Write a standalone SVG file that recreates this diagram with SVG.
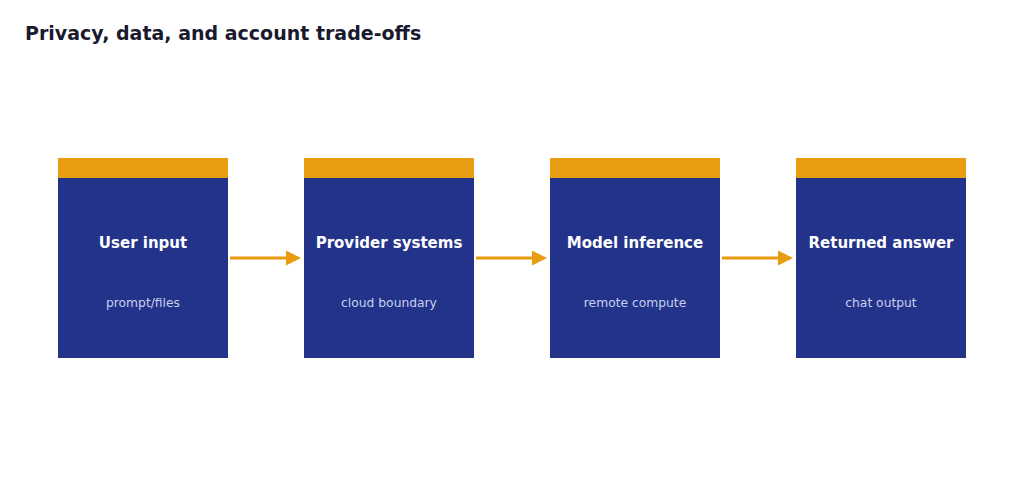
<svg xmlns="http://www.w3.org/2000/svg" width="1024" height="483" viewBox="0 0 1024 483">
<style>
.box{fill:#23338a}.bar{fill:#e89c10}
.t{font-family:"DejaVu Sans",sans-serif;font-size:15px;font-weight:bold;fill:#fff;text-anchor:middle}
.s{font-family:"DejaVu Sans",sans-serif;font-size:12.3px;fill:#c8d0f0;text-anchor:middle}
.c{stroke:#e89c10;stroke-width:3;fill:none;marker-end:url(#a)}
</style>
<defs><marker id="a" markerWidth="5" markerHeight="5" refX="4" refY="2.5" orient="auto" markerUnits="strokeWidth"><path d="M0,0L5,2.5L0,5z" fill="#e89c10"/></marker></defs>
<rect width="1024" height="483" fill="#fff"/>
<text x="25" y="40" font-family="DejaVu Sans,sans-serif" font-size="19" font-weight="bold" fill="#1a1a2e">Privacy, data, and account trade-offs</text>
<g id="n1"><rect class="box" x="58" y="158" width="170" height="200"/><rect class="bar" x="58" y="158" width="170" height="20"/><text class="t" x="143" y="248">User input</text><text class="s" x="143" y="307">prompt/files</text></g>
<g id="n2"><rect class="box" x="304" y="158" width="170" height="200"/><rect class="bar" x="304" y="158" width="170" height="20"/><text class="t" x="389" y="248">Provider systems</text><text class="s" x="389" y="307">cloud boundary</text></g>
<g id="n3"><rect class="box" x="550" y="158" width="170" height="200"/><rect class="bar" x="550" y="158" width="170" height="20"/><text class="t" x="635" y="248">Model inference</text><text class="s" x="635" y="307">remote compute</text></g>
<g id="n4"><rect class="box" x="796" y="158" width="170" height="200"/><rect class="bar" x="796" y="158" width="170" height="20"/><text class="t" x="881" y="248">Returned answer</text><text class="s" x="881" y="307">chat output</text></g>
<g id="connectors">
<path class="c" d="M230,258H298"/><path class="c" d="M476,258H544"/><path class="c" d="M722,258H790"/>
</g>
</svg>
